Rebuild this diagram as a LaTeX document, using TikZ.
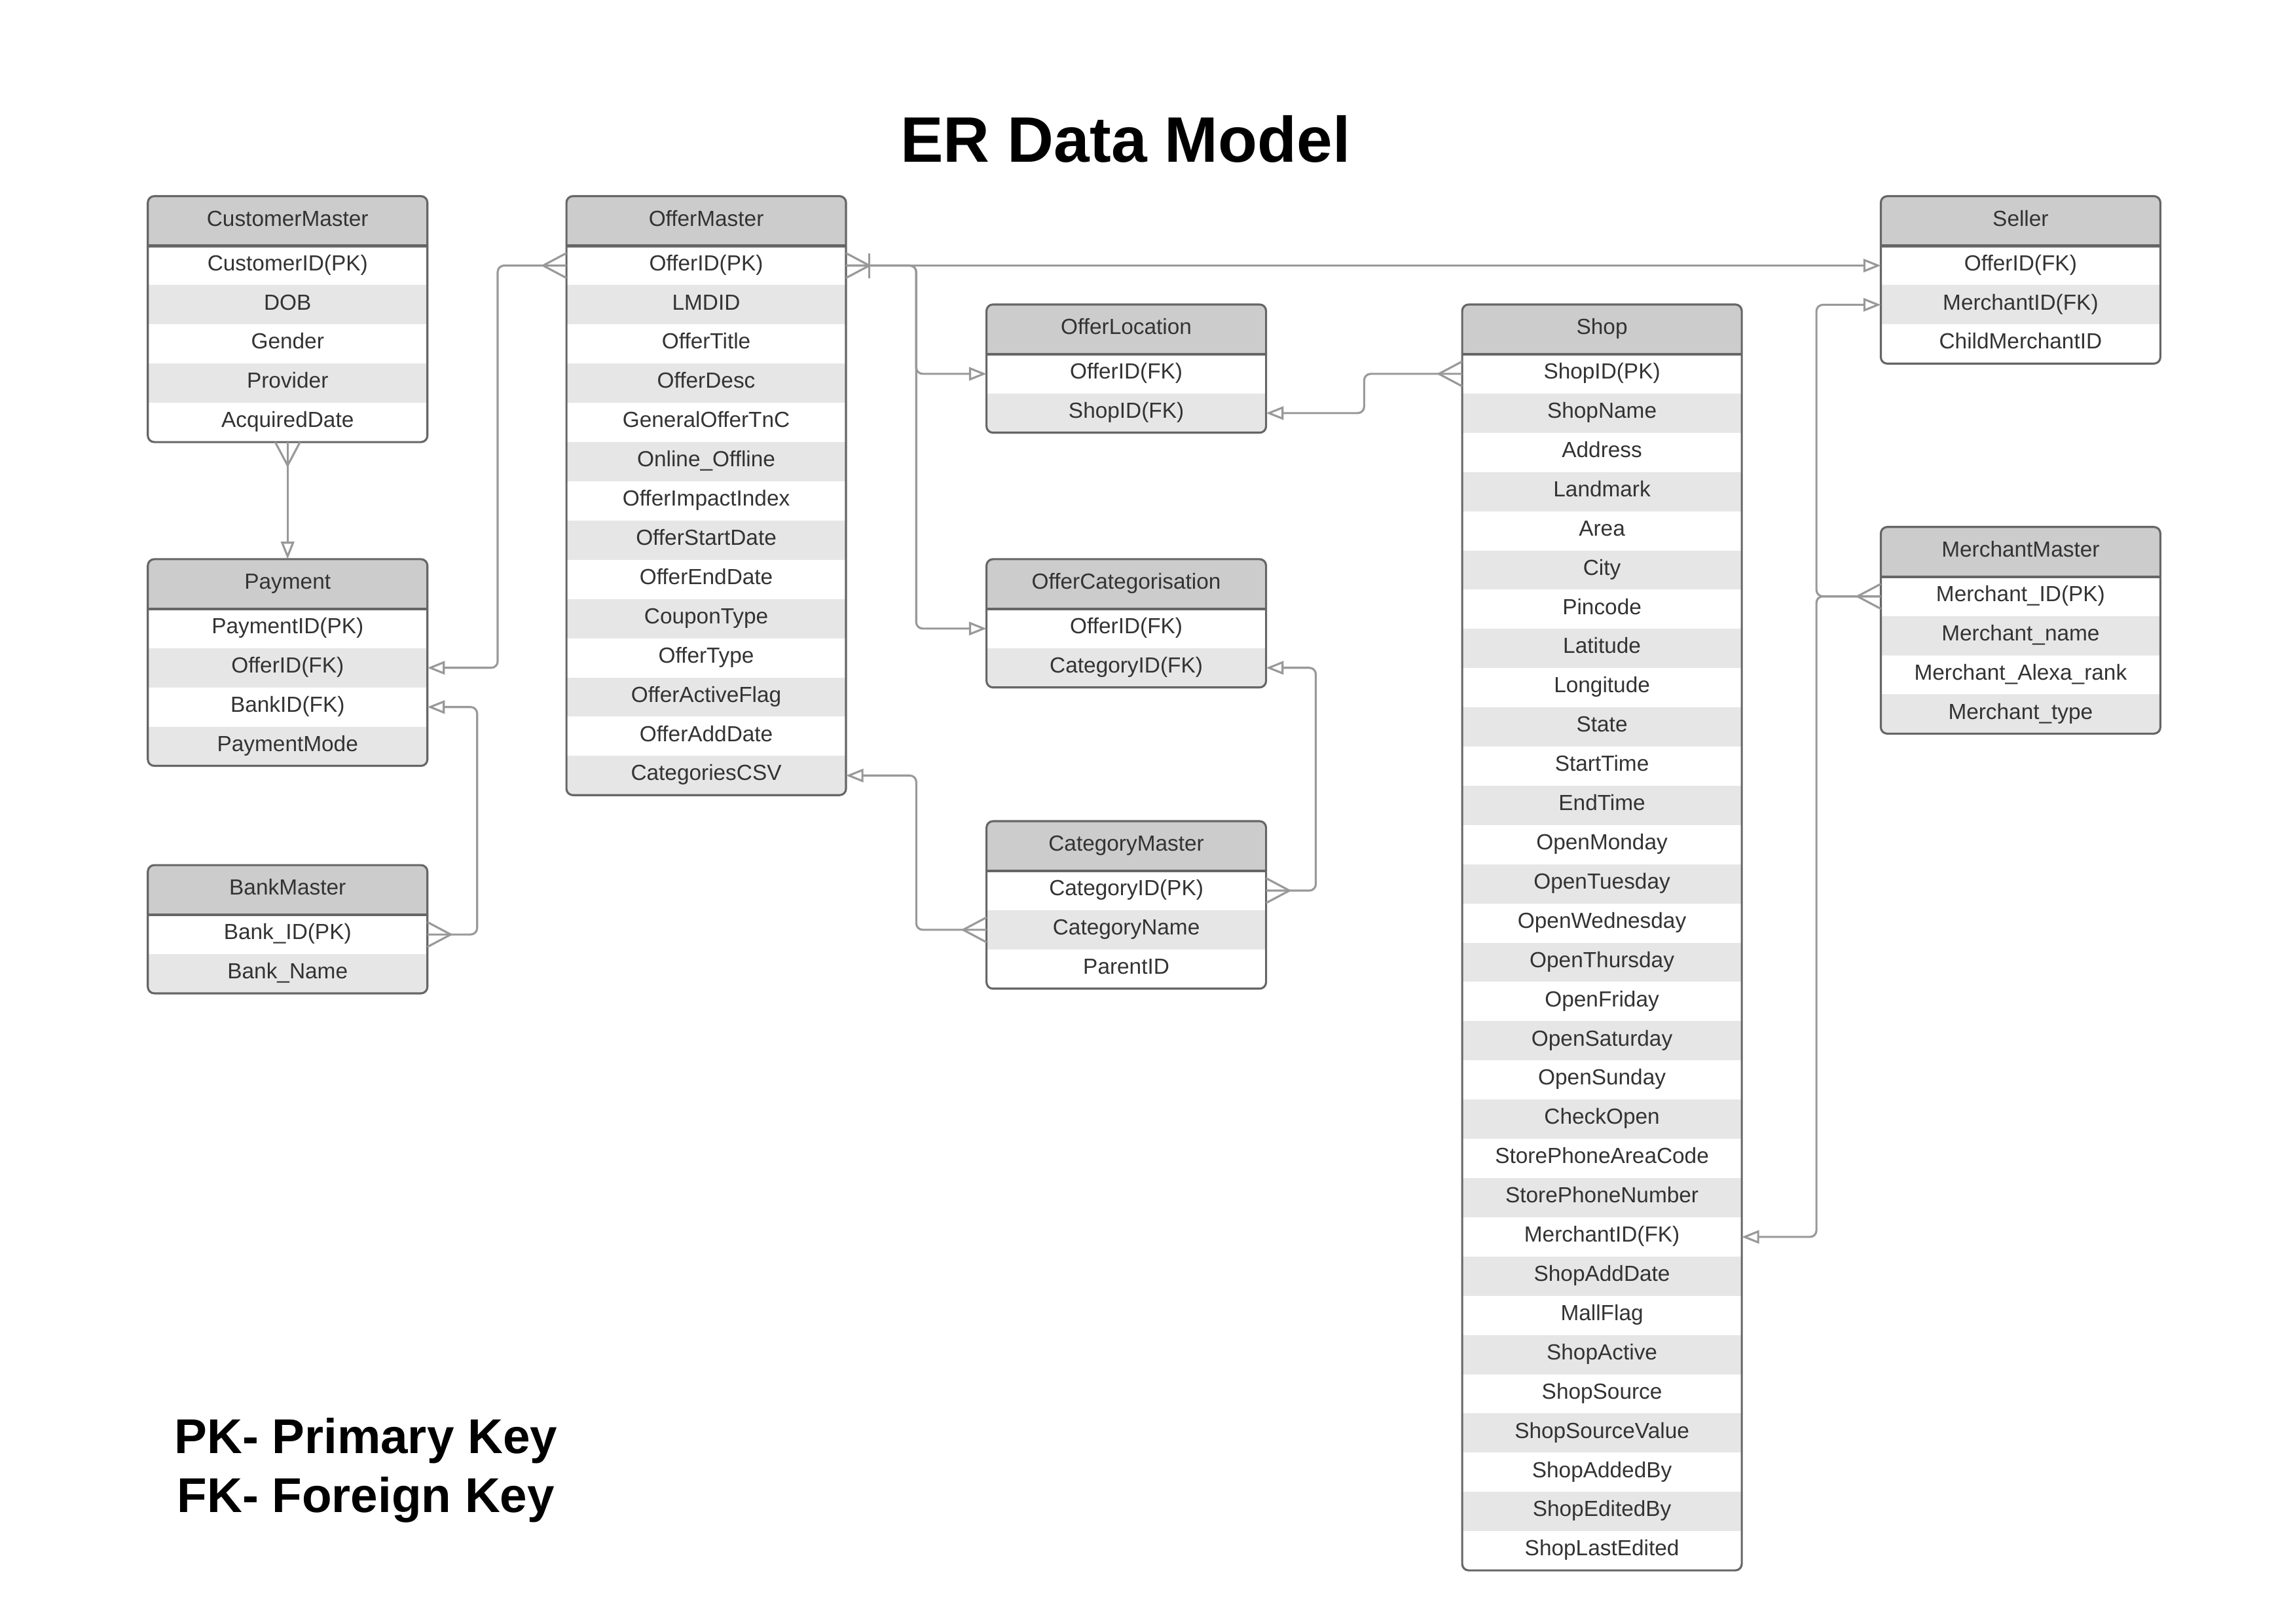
\documentclass[tikz,border=0pt]{standalone}
\usepackage{fontspec}
\setmainfont{Liberation Sans}
\usetikzlibrary{arrows.meta,calc}

\definecolor{hdrgray}{HTML}{CCCCCC}
\definecolor{rowgray}{HTML}{E6E6E6}
\definecolor{edgegray}{HTML}{666666}
\definecolor{linkgray}{HTML}{999999}
\definecolor{txtgray}{HTML}{333333}

\tikzset{
  hdr/.style={fill=hdrgray, text=txtgray, minimum width=3.82cm, minimum height=0.68cm,
    text height=6.1pt, text depth=2.2pt,
    inner sep=0pt, outer sep=0pt, font=\fontsize{8.5}{10}\selectfont},
  fld/.style={text=txtgray, minimum width=3.82cm, minimum height=0.536cm,
    text height=6.1pt, text depth=2.2pt,
    inner sep=0pt, outer sep=0pt, font=\fontsize{8.5}{10}\selectfont},
  fld1/.style={fill=white},
  fld0/.style={fill=rowgray},
  tbl/.style={draw=edgegray, line width=0.8pt, rounded corners=2.5pt},
  tblsep/.style={draw=edgegray, line width=1.1pt},
  link/.style={draw=linkgray, line width=0.8pt, rounded corners=2.5pt},
  fk/.style={-{Triangle[length=6.8pt,width=5.2pt,fill=white]}}
}

% table: name, x, y, title, number of rows, rows
\newcommand{\ertable}[6]{%
  \begin{scope}
    \clip[rounded corners=2.5pt] (#2,#3) rectangle ++(191,{34+#5*26.8});
    \node[hdr] (#1) at ({#2+95.5},{#3+17}) {#4};
    \foreach \t [count=\i] in {#6} {
      \pgfmathtruncatemacro\rowpar{mod(\i,2)}
      \node[fld, fld\rowpar] (#1-\i) at ({#2+95.5},{#3+34+(\i-0.5)*26.8}) {\t};
    }
  \end{scope}
  \draw[tbl] (#2,#3) rectangle ++(191,{34+#5*26.8});
  \draw[tblsep] (#2,{#3+34}) -- ++(191,0);
}

% many end at an anchor, pointing away from the table
\newcommand{\crowfoot}[2]{%
  \draw[link,sharp corners] ($(#1)+(#2+90:8.5)$) -- ($(#1)+(#2:16)$) -- ($(#1)+(#2-90:8.5)$);
}

\begin{document}
\begin{tikzpicture}[x=0.02cm, y=-0.02cm]
 \useasboundingbox (0,0) rectangle (1568,1109.4);
 %\draw[help lines] (0,0) grid[step=100] (1568,1109.4);

 \node[font=\bfseries\fontsize{25}{30}\selectfont] (title) at (769,95) {ER Data Model};

 \ertable{cust}{101}{134}{CustomerMaster}{5}{CustomerID(PK),DOB,Gender,Provider,AcquiredDate}
 \ertable{offer}{387}{134}{OfferMaster}{14}{OfferID(PK),LMDID,OfferTitle,OfferDesc,GeneralOfferTnC,Online\_Offline,OfferImpactIndex,OfferStartDate,OfferEndDate,CouponType,OfferType,OfferActiveFlag,OfferAddDate,CategoriesCSV}
 \ertable{pay}{101}{382}{Payment}{4}{PaymentID(PK),OfferID(FK),BankID(FK),PaymentMode}
 \ertable{bank}{101}{591}{BankMaster}{2}{Bank\_ID(PK),Bank\_Name}
 \ertable{oloc}{674}{208}{OfferLocation}{2}{OfferID(FK),ShopID(FK)}
 \ertable{ocat}{674}{382}{OfferCategorisation}{2}{OfferID(FK),CategoryID(FK)}
 \ertable{cmas}{674}{561}{CategoryMaster}{3}{CategoryID(PK),CategoryName,ParentID}
 \ertable{shop}{999}{208}{Shop}{31}{ShopID(PK),ShopName,Address,Landmark,Area,City,Pincode,Latitude,Longitude,State,StartTime,EndTime,OpenMonday,OpenTuesday,OpenWednesday,OpenThursday,OpenFriday,OpenSaturday,OpenSunday,CheckOpen,StorePhoneAreaCode,StorePhoneNumber,MerchantID(FK),ShopAddDate,MallFlag,ShopActive,ShopSource,ShopSourceValue,ShopAddedBy,ShopEditedBy,ShopLastEdited}
 \ertable{sell}{1285}{134}{Seller}{3}{OfferID(FK),MerchantID(FK),ChildMerchantID}
 \ertable{merch}{1285}{360}{MerchantMaster}{4}{Merchant\_ID(PK),Merchant\_name,Merchant\_Alexa\_rank,Merchant\_type}

 \draw[link,fk] (cust-5.south) -- (pay.north);
 \crowfoot{cust-5.south}{90}
 \draw[link,fk] (offer-1.west) -- ++(-47,0) |- (pay-2.east);
 \crowfoot{offer-1.west}{180}
 \draw[link,fk] (bank-1.east) -- ++(34,0) |- (pay-3.east);
 \crowfoot{bank-1.east}{0}

 \draw[link,fk] (offer-1.east) -- (sell-1.west);
 \draw[link,fk] (offer-1.east) -- ++(48,0) |- (oloc-1.west);
 \draw[link,fk] (offer-1.east) -- ++(48,0) |- (ocat-1.west);
 \crowfoot{offer-1.east}{0}
 \draw[link,sharp corners] ($(offer-1.east)+(16,-8.5)$) -- ($(offer-1.east)+(16,8.5)$);

 \draw[link,fk] (shop-1.west) -- ++(-67,0) |- (oloc-2.east);
 \crowfoot{shop-1.west}{180}
 \draw[link,fk] (cmas-1.east) -- ++(34,0) |- (ocat-2.east);
 \crowfoot{cmas-1.east}{0}
 \draw[link,fk] (cmas-2.west) -- ++(-48,0) |- (offer-14.east);
 \crowfoot{cmas-2.west}{180}

 \draw[link,fk] (merch-1.west) -- ++(-44,0) |- (sell-2.west);
 \draw[link,fk] (merch-1.west) -- ++(-44,0) |- (shop-23.east);
 \crowfoot{merch-1.west}{180}

 \node[font=\bfseries\fontsize{19}{23}\selectfont, anchor=base] (pkkey) at (250,993) {PK- Primary Key};
 \node[font=\bfseries\fontsize{19}{23}\selectfont, anchor=base] (fkkey) at (250,1033) {FK- Foreign Key};
\end{tikzpicture}
\end{document}
